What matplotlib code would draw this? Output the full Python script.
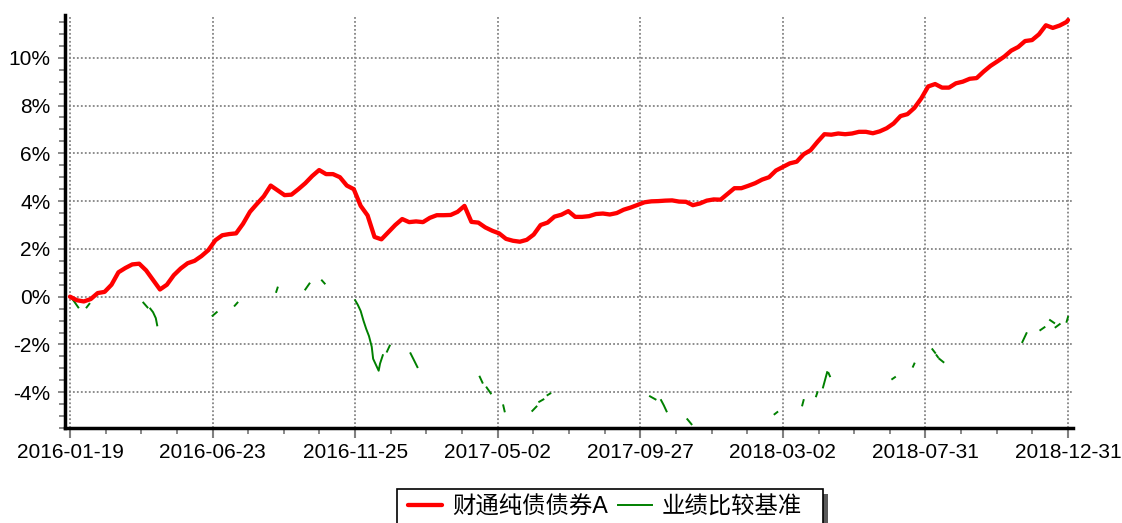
import numpy as np
import matplotlib
matplotlib.use('Agg')
import matplotlib.pyplot as plt
from matplotlib.patches import Rectangle
from matplotlib.ticker import FixedLocator, MultipleLocator, FuncFormatter

nan = np.nan

# ---------------- data ----------------
tick_days = [0, 103, 206, 309, 412, 515, 618, 721]
tick_labels = ['2016-01-19', '2016-06-23', '2016-11-25', '2017-05-02',
               '2017-09-27', '2018-03-02', '2018-07-31', '2018-12-31']

fund_name = '财通纯债债券A'
bench_name = '业绩比较基准'

# fund cumulative return (%), one value every 5 trading days, last point = final day
fund_ret = [
    0.00, -0.15, -0.20, -0.10, 0.15, 0.20, 0.50, 1.02, 1.20, 1.35,
    1.38, 1.10, 0.70, 0.30, 0.50, 0.90, 1.18, 1.40, 1.50, 1.70,
    1.95, 2.36, 2.57, 2.62, 2.65, 3.05, 3.55, 3.88, 4.20, 4.65,
    4.45, 4.25, 4.27, 4.50, 4.75, 5.05, 5.30, 5.13, 5.13, 5.00,
    4.65, 4.50, 3.80, 3.40, 2.50, 2.40, 2.70, 3.00, 3.25, 3.12,
    3.15, 3.12, 3.30, 3.41, 3.41, 3.42, 3.55, 3.80, 3.13, 3.10,
    2.90, 2.76, 2.65, 2.42, 2.34, 2.30, 2.38, 2.60, 3.00, 3.10,
    3.35, 3.43, 3.58, 3.34, 3.34, 3.37, 3.46, 3.48, 3.44, 3.50,
    3.64, 3.73, 3.84, 3.95, 3.99, 4.00, 4.02, 4.03, 3.98, 3.97,
    3.83, 3.90, 4.02, 4.07, 4.06, 4.30, 4.54, 4.54, 4.64, 4.75,
    4.90, 5.00, 5.28, 5.43, 5.58, 5.65, 5.96, 6.13, 6.48, 6.80,
    6.78, 6.83, 6.80, 6.83, 6.90, 6.90, 6.84, 6.92, 7.05, 7.25,
    7.56, 7.64, 7.90, 8.30, 8.80, 8.90, 8.75, 8.75, 8.93, 9.00,
    9.12, 9.15, 9.42, 9.66, 9.85, 10.05, 10.30, 10.45, 10.70, 10.74,
    10.98, 11.36, 11.25, 11.35, 11.50, 11.58]
fund_day = list(range(0, 721, 5)) + [721]

# benchmark (%): only the visible pieces, gaps are missing data
bench_day = [1, 3, 6, nan, 12, 14, nan, 53, 56, nan, 58, 60, 62, 63, nan,
             103, 106, nan, 119, 121, nan, 149, 150, nan, 170, 173, nan, 182, 184, nan,
             206, 208, 210, 212, 214, 216, 218, 219, 221, 223, 224, 226, nan,
             229, 231, nan, 246, 248, 251, nan, 296, 298, nan, 301, 304, nan,
             313, 314, nan, 334, 337, nan, 339, 342, nan, 345, 347, nan,
             419, 423, nan, 427, 429, 431, nan, 446, 449, nan, 509, 511, nan,
             529, 530, nan, 539, 540, nan, 544, 547, nan, 548, 549, nan,
             594, 596, nan, 609, 610, nan, 623, 625, nan, 626, 627, nan, 628, 631, nan,
             688, 691, nan, 701, 704, nan, 708, 711, nan, 712, 715, nan, 720, 721]
bench_ret = [-0.05, -0.20, -0.45, nan, -0.45, -0.30, nan, -0.25, -0.45, nan,
             -0.50, -0.65, -0.90, -1.20, nan,
             -0.80, -0.65, nan, -0.38, -0.25, nan, 0.20, 0.38, nan, 0.30, 0.55, nan,
             0.68, 0.55, nan,
             -0.15, -0.35, -0.60, -1.00, -1.35, -1.65, -2.10, -2.60, -2.85, -3.10, -2.80, -2.45, nan,
             -2.30, -2.05, nan, -2.37, -2.60, -2.95, nan, -3.35, -3.60, nan, -3.80, -4.05, nan,
             -4.55, -4.80, nan, -4.78, -4.60, nan, -4.40, -4.30, nan, -4.12, -4.05, nan,
             -4.17, -4.30, nan, -4.33, -4.55, -4.80, nan, -5.13, -5.34, nan, -4.92, -4.83, nan,
             -4.55, -4.33, nan, -4.17, -4.00, nan, -3.80, -3.16, nan, -3.20, -3.33, nan,
             -3.45, -3.37, nan, -2.93, -2.80, nan, -2.20, -2.35, nan, -2.45, -2.53, nan, -2.60, -2.74, nan,
             -1.90, -1.53, nan, -1.40, -1.28, nan, -0.98, -1.10, nan, -1.28, -1.15, nan, -1.05, -0.85]

# ---------------- style ----------------
plt.rcParams['font.family'] = ['Liberation Sans', 'Noto Sans CJK SC', 'DejaVu Sans']
plt.rcParams['axes.unicode_minus'] = False

W, H = 1122, 523
fig = plt.figure(figsize=(W / 100, H / 100), dpi=100)
ax = fig.add_axes([65 / W, 1 - 428.3 / H, (1073 - 65) / W, (428.3 - 15) / H])
ax.set_axisbelow(True)

ax.plot(np.array(bench_day, dtype=float), np.array(bench_ret, dtype=float),
        color='#008000', lw=1.4, zorder=2, label=bench_name)
ax.plot(fund_day, fund_ret, color='#ff0000', lw=3.1, zorder=3,
        solid_joinstyle='round', solid_capstyle='round', label=fund_name)

ax.set_xlim(-3.6, 724.6)
ax.set_ylim(-5.51, 11.79)

for s in ['top', 'right']:
    ax.spines[s].set_visible(False)
for s in ['left', 'bottom']:
    ax.spines[s].set_linewidth(2.5)
    ax.spines[s].set_color('black')

ax.xaxis.set_major_locator(FixedLocator(tick_days))
ax.set_xticklabels(tick_labels)
minor_x = []
for a, b in zip(tick_days[:-1], tick_days[1:]):
    minor_x += [a + (b - a) * i / 4 for i in (1, 2, 3)]
ax.xaxis.set_minor_locator(FixedLocator(minor_x))

ax.yaxis.set_major_locator(MultipleLocator(2))
ax.yaxis.set_minor_locator(MultipleLocator(0.5))
ax.yaxis.set_major_formatter(FuncFormatter(lambda v, p: f'{v:.0f}%'))

ax.tick_params(axis='x', which='major', direction='out', length=7, width=1.5,
               color='#808080', labelsize=15, pad=3.5, labelcolor='black')
ax.tick_params(axis='x', which='minor', direction='out', length=4.5, width=1.3,
               color='#808080')
ax.tick_params(axis='y', which='major', direction='out', length=5, width=1.3,
               color='#808080', labelsize=15, pad=5.5, labelcolor='black')
ax.tick_params(axis='y', which='minor', direction='out', length=4, width=1.3,
               color='#808080')

ax.grid(which='major', color='#858585', linestyle=(0, (1, 1.2)), linewidth=1.3)

# legend frame with shadow (box runs past the bottom edge of the image)
box_l, box_r, box_t = 397, 823, 489
fig.add_artist(Rectangle((box_l / W + 5 / W, -0.2), (box_r - box_l) / W, 1 - (box_t + 5) / H + 0.2,
                         transform=fig.transFigure, facecolor='#5a5a5a', edgecolor='none',
                         zorder=4))
fig.add_artist(Rectangle((box_l / W, -0.2), (box_r - box_l) / W, 1 - box_t / H + 0.2,
                         transform=fig.transFigure, facecolor='white', edgecolor='black',
                         linewidth=1.2, zorder=5))

h, l = ax.get_legend_handles_labels()
order = [1, 0]
leg = fig.legend([h[i] for i in order], [l[i] for i in order],
                 loc='center left', bbox_to_anchor=(408 / W, 1 - 507 / H),
                 ncol=2, frameon=False, fontsize=16.8, handlelength=1.45,
                 handletextpad=0.43, columnspacing=0.43, borderpad=0,
                 borderaxespad=0)
leg.set_zorder(6)

fig.savefig('out.png', dpi=100)
